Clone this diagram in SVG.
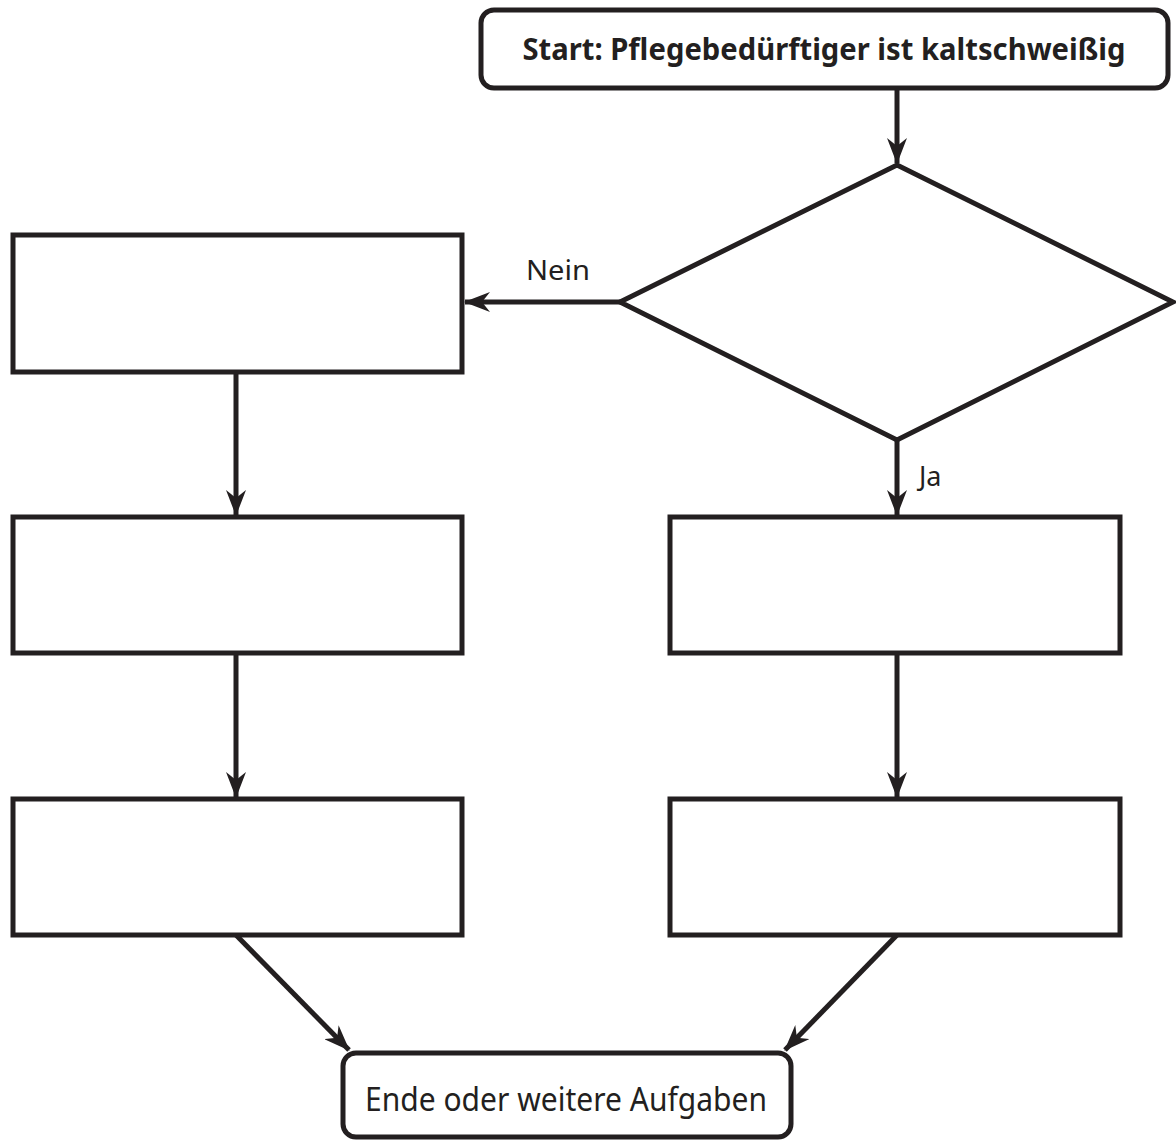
<svg xmlns="http://www.w3.org/2000/svg" width="1176" height="1140" viewBox="0 0 1176 1140">
<style>
.box{fill:#fff;stroke:#231f20;stroke-width:5}
.con{fill:none;stroke:#231f20;stroke-width:5}
.t{font-family:"Source Sans Pro","Noto Sans","Open Sans",sans-serif;fill:#231f20}
</style>
<defs>
<marker id="ah" viewBox="0 0 26 20" refX="25" refY="10" markerWidth="26" markerHeight="20" markerUnits="userSpaceOnUse" orient="auto">
<path d="M0,0 L26,10 L0,20 L8,10 Z" fill="#231f20"/>
</marker>
</defs>
<rect width="1176" height="1140" fill="#fff"/>
<g id="connectors">
<line class="con" x1="897" y1="88" x2="897" y2="163" marker-end="url(#ah)"/>
<line class="con" x1="620" y1="302" x2="465" y2="302" marker-end="url(#ah)"/>
<line class="con" x1="897" y1="440" x2="897" y2="515" marker-end="url(#ah)"/>
<line class="con" x1="236" y1="372" x2="236" y2="515" marker-end="url(#ah)"/>
<line class="con" x1="236" y1="653" x2="236" y2="797" marker-end="url(#ah)"/>
<line class="con" x1="897" y1="653" x2="897" y2="797" marker-end="url(#ah)"/>
<line class="con" x1="236" y1="935" x2="349" y2="1050" marker-end="url(#ah)"/>
<line class="con" x1="897" y1="935" x2="785" y2="1050" marker-end="url(#ah)"/>
<text class="t" x="558" y="280" font-size="27" text-anchor="middle" textLength="64" lengthAdjust="spacingAndGlyphs">Nein</text>
<text class="t" x="919" y="486" font-size="27">Ja</text>
</g>
<g id="start">
<rect class="box" x="481" y="10" width="687" height="78" rx="13"/>
<text class="t" x="824" y="60" font-size="29.5" font-weight="bold" text-anchor="middle" textLength="603" lengthAdjust="spacingAndGlyphs">Start: Pflegebedürftiger ist kaltschweißig</text>
</g>
<g id="decision">
<polygon class="box" points="897,165 1173,302 897,440 620,302"/>
</g>
<g id="left1"><rect class="box" x="13" y="235" width="449" height="137"/></g>
<g id="left2"><rect class="box" x="13" y="517" width="449" height="136"/></g>
<g id="left3"><rect class="box" x="13" y="799" width="449" height="136"/></g>
<g id="right2"><rect class="box" x="670" y="517" width="450" height="136"/></g>
<g id="right3"><rect class="box" x="670" y="799" width="450" height="136"/></g>
<g id="end">
<rect class="box" x="343" y="1053" width="448" height="84" rx="13"/>
<text class="t" x="566" y="1111" font-size="32" text-anchor="middle" textLength="402" lengthAdjust="spacingAndGlyphs">Ende oder weitere Aufgaben</text>
</g>
</svg>
